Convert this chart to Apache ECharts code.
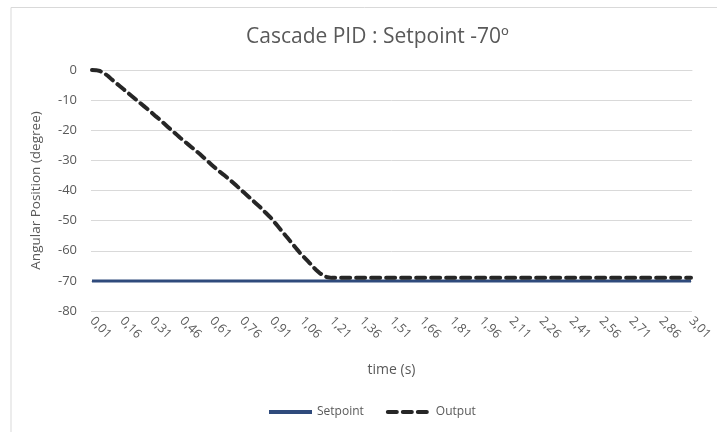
<!DOCTYPE html>
<html>
<head>
<meta charset="utf-8">
<script src="https://cdn.jsdelivr.net/npm/echarts@6/dist/echarts.min.js"></script>
<style>
  html, body { margin: 0; padding: 0; background: #fff; }
  #chart { width: 717px; height: 432px; }
</style>
</head>
<body>
<div id="chart"></div>
<script>
// time axis: 0,01 .. 3,01 s in steps of 0,01
const times = [];
for (let t = 1; t <= 301; t++) times.push((t / 100).toFixed(2).replace('.', ','));

const setpoint = [
  -70,-70,-70,-70,-70,-70,-70,-70,-70,-70, -70,-70,-70,-70,-70,-70,-70,-70,-70,-70,
  -70,-70,-70,-70,-70,-70,-70,-70,-70,-70, -70,-70,-70,-70,-70,-70,-70,-70,-70,-70,
  -70,-70,-70,-70,-70,-70,-70,-70,-70,-70, -70,-70,-70,-70,-70,-70,-70,-70,-70,-70,
  -70,-70,-70,-70,-70,-70,-70,-70,-70,-70, -70,-70,-70,-70,-70,-70,-70,-70,-70,-70,
  -70,-70,-70,-70,-70,-70,-70,-70,-70,-70, -70,-70,-70,-70,-70,-70,-70,-70,-70,-70,
  -70,-70,-70,-70,-70,-70,-70,-70,-70,-70, -70,-70,-70,-70,-70,-70,-70,-70,-70,-70,
  -70,-70,-70,-70,-70,-70,-70,-70,-70,-70, -70,-70,-70,-70,-70,-70,-70,-70,-70,-70,
  -70,-70,-70,-70,-70,-70,-70,-70,-70,-70, -70,-70,-70,-70,-70,-70,-70,-70,-70,-70,
  -70,-70,-70,-70,-70,-70,-70,-70,-70,-70, -70,-70,-70,-70,-70,-70,-70,-70,-70,-70,
  -70,-70,-70,-70,-70,-70,-70,-70,-70,-70, -70,-70,-70,-70,-70,-70,-70,-70,-70,-70,
  -70,-70,-70,-70,-70,-70,-70,-70,-70,-70, -70,-70,-70,-70,-70,-70,-70,-70,-70,-70,
  -70,-70,-70,-70,-70,-70,-70,-70,-70,-70, -70,-70,-70,-70,-70,-70,-70,-70,-70,-70,
  -70,-70,-70,-70,-70,-70,-70,-70,-70,-70, -70,-70,-70,-70,-70,-70,-70,-70,-70,-70,
  -70,-70,-70,-70,-70,-70,-70,-70,-70,-70, -70,-70,-70,-70,-70,-70,-70,-70,-70,-70,
  -70,-70,-70,-70,-70,-70,-70,-70,-70,-70, -70,-70,-70,-70,-70,-70,-70,-70,-70,-70,
  -70
];

const output = [
  0, 0, -0.05, -0.15, -0.35, -0.6, -1.0, -1.5, -2.0, -2.6,
  -3.2, -3.8, -4.3, -4.9, -5.4, -6.0, -6.5, -7.1, -7.6, -8.2,
  -8.7, -9.2, -9.8, -10.3, -10.9, -11.4, -12.0, -12.5, -13.1, -13.6,
  -14.2, -14.8, -15.4, -15.9, -16.5, -17.1, -17.7, -18.3, -18.9, -19.5,
  -20.1, -20.7, -21.2, -21.8, -22.4, -22.9, -23.5, -24.1, -24.6, -25.2,
  -25.7, -26.3, -26.8, -27.4, -27.9, -28.5, -29.1, -29.7, -30.3, -30.9,
  -31.5, -32.1, -32.7, -33.2, -33.8, -34.3, -34.8, -35.4, -35.9, -36.5,
  -37.0, -37.6, -38.2, -38.8, -39.4, -40.0, -40.6, -41.2, -41.8, -42.4,
  -43.0, -43.6, -44.2, -44.8, -45.4, -46.0, -46.7, -47.4, -48.0, -48.7,
  -49.4, -50.2, -51.0, -51.8, -52.6, -53.4, -54.2, -55.0, -55.8, -56.6,
  -57.4, -58.2, -59.0, -59.8, -60.6, -61.3, -62.0, -62.7, -63.4, -64.1,
  -64.8, -65.5, -66.2, -66.8, -67.4, -67.9, -68.3, -68.6, -68.8, -69.0,
  -69.0, -69.0, -69.0, -69.0, -69.0, -69.0, -69.0, -69.0, -69.0, -69.0,
  -69.0, -69.0, -69.0, -69.0, -69.0, -69.0, -69.0, -69.0, -69.0, -69.0,
  -69.0, -69.0, -69.0, -69.0, -69.0, -69.0, -69.0, -69.0, -69.0, -69.0,
  -69.0, -69.0, -69.0, -69.0, -69.0, -69.0, -69.0, -69.0, -69.0, -69.0,
  -69.0, -69.0, -69.0, -69.0, -69.0, -69.0, -69.0, -69.0, -69.0, -69.0,
  -69.0, -69.0, -69.0, -69.0, -69.0, -69.0, -69.0, -69.0, -69.0, -69.0,
  -69.0, -69.0, -69.0, -69.0, -69.0, -69.0, -69.0, -69.0, -69.0, -69.0,
  -69.0, -69.0, -69.0, -69.0, -69.0, -69.0, -69.0, -69.0, -69.0, -69.0,
  -69.0, -69.0, -69.0, -69.0, -69.0, -69.0, -69.0, -69.0, -69.0, -69.0,
  -69.0, -69.0, -69.0, -69.0, -69.0, -69.0, -69.0, -69.0, -69.0, -69.0,
  -69.0, -69.0, -69.0, -69.0, -69.0, -69.0, -69.0, -69.0, -69.0, -69.0,
  -69.0, -69.0, -69.0, -69.0, -69.0, -69.0, -69.0, -69.0, -69.0, -69.0,
  -69.0, -69.0, -69.0, -69.0, -69.0, -69.0, -69.0, -69.0, -69.0, -69.0,
  -69.0, -69.0, -69.0, -69.0, -69.0, -69.0, -69.0, -69.0, -69.0, -69.0,
  -69.0, -69.0, -69.0, -69.0, -69.0, -69.0, -69.0, -69.0, -69.0, -69.0,
  -69.0, -69.0, -69.0, -69.0, -69.0, -69.0, -69.0, -69.0, -69.0, -69.0,
  -69.0, -69.0, -69.0, -69.0, -69.0, -69.0, -69.0, -69.0, -69.0, -69.0,
  -69.0, -69.0, -69.0, -69.0, -69.0, -69.0, -69.0, -69.0, -69.0, -69.0,
  -69.0
];

const font = 'Open Sans';
const textColor = '#595959';
const gridColor = '#d9d9d9';

const chart = echarts.init(document.getElementById('chart'));
chart.setOption({
  animation: false,
  backgroundColor: '#fff',
  graphic: [{
    type: 'rect',
    shape: { x: 11, y: 7.5, width: 720, height: 440 },
    style: { fill: 'none', stroke: gridColor, lineWidth: 1 },
    silent: true
  }],
  title: {
    text: 'Cascade PID : Setpoint -70º',
    left: 241,
    top: 22,
    textStyle: { fontFamily: font, fontSize: 21, fontWeight: 'normal', color: textColor }
  },
  legend: {
    bottom: 9,
    left: 262,
    itemWidth: 43,
    itemHeight: 4,
    itemGap: 22,
    itemStyle: { opacity: 0 },
    lineStyle: { width: 4 },
    textStyle: { fontFamily: font, fontSize: 12, color: textColor },
    data: ['Setpoint', 'Output']
  },
  grid: { left: 91, right: 25, top: 70, bottom: 121 },
  xAxis: {
    type: 'category',
    data: times,
    boundaryGap: true,
    name: 'time (s)',
    nameLocation: 'middle',
    nameGap: 52,
    nameTextStyle: { fontFamily: font, fontSize: 14, color: textColor },
    axisLine: { show: true, lineStyle: { color: gridColor } },
    axisTick: { show: false },
    axisLabel: {
      interval: 14,
      rotate: -45,
      margin: 8,
      fontFamily: font,
      fontSize: 12.5,
      color: textColor
    }
  },
  yAxis: {
    type: 'value',
    min: -80,
    max: 0,
    interval: 10,
    name: 'Angular Position (degree)',
    nameLocation: 'middle',
    nameGap: 48,
    nameTextStyle: { fontFamily: font, fontSize: 13.5, color: textColor },
    axisLine: { show: false },
    axisTick: { show: false },
    axisLabel: { fontFamily: font, fontSize: 13, color: textColor, margin: 14 },
    splitLine: { lineStyle: { color: gridColor, width: 1 } }
  },
  series: [
    {
      name: 'Setpoint',
      type: 'line',
      data: setpoint,
      symbol: 'none',
      color: '#2f4b7c',
      lineStyle: { width: 3, color: '#2f4b7c' }
    },
    {
      name: 'Output',
      type: 'line',
      data: output,
      symbol: 'none',
      color: '#262626',
      lineStyle: { width: 4, color: '#262626', type: [9, 6], cap: 'round' }
    }
  ]
});
</script>
</body>
</html>
